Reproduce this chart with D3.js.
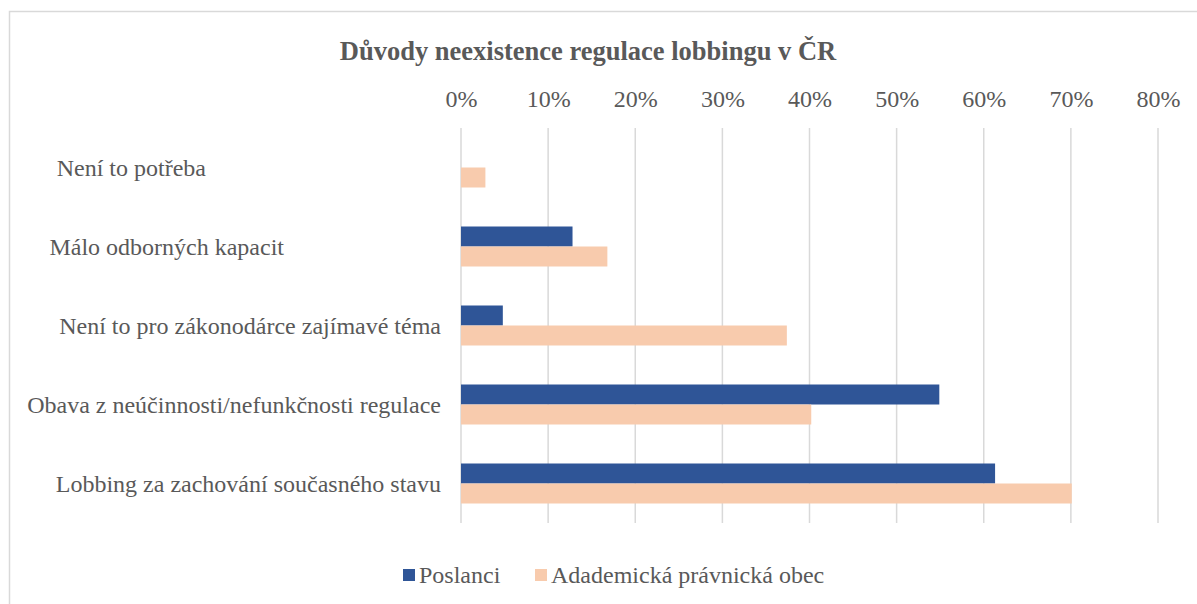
<!DOCTYPE html>
<html>
<head>
<meta charset="utf-8">
<script src="https://cdn.jsdelivr.net/npm/d3@7"></script>
<style>
  body { margin: 0; background: #fff; }
  text { font-family: "Liberation Serif", "Times New Roman", serif; fill: #595959; }
</style>
</head>
<body>
<svg id="chart" width="1197" height="604"></svg>
<script>
// data
var categories = [
  "Není to potřeba",
  "Málo odborných kapacit",
  "Není to pro zákonodárce zajímavé téma",
  "Obava z neúčinnosti/nefunkčnosti regulace",
  "Lobbing za zachování současného stavu"
];
var seriesNames = ["Poslanci", "Adademická právnická obec"];
var poslanci = [0, 0.128, 0.048, 0.549, 0.613];
var akademici = [0.028, 0.168, 0.374, 0.402, 0.701];
var ticks = [0, 0.1, 0.2, 0.3, 0.4, 0.5, 0.6, 0.7, 0.8];

var colors = ["#2F5597", "#F8CBAD"];

var svg = d3.select("#chart");

// outer frame (runs off the right / bottom edge)
svg.append("rect")
  .attr("x", 9.5).attr("y", 11.5)
  .attr("width", 1300).attr("height", 700)
  .attr("fill", "#fff")
  .attr("stroke", "#D9D9D9")
  .attr("stroke-width", 1.5);

svg.append("text")
  .attr("x", 588).attr("y", 60)
  .attr("text-anchor", "middle")
  .style("font-size", "26.5px")
  .style("font-weight", "bold")
  .text("Důvody neexistence regulace lobbingu v ČR");

var x = d3.scaleLinear().domain([0, 0.8]).range([461, 1158]);
var y = d3.scaleBand().domain(categories).range([128, 523]);
var sub = d3.scaleBand().domain(seriesNames).range([0, 40]);
var barOffset = (y.bandwidth() - 40) / 2;

// gridlines
svg.append("g").selectAll("line")
  .data(ticks).enter().append("line")
  .attr("x1", function(d){ return x(d); })
  .attr("x2", function(d){ return x(d); })
  .attr("y1", y.range()[0])
  .attr("y2", y.range()[1])
  .attr("stroke", "#D9D9D9")
  .attr("stroke-width", 1.5);

// top axis labels
var xAxis = svg.append("g")
  .attr("transform", "translate(0,107)")
  .call(d3.axisTop(x).tickValues(ticks).tickSize(0).tickPadding(0)
    .tickFormat(function(d){ return Math.round(d * 100) + "%"; }));
xAxis.select(".domain").remove();
xAxis.selectAll("text")
  .attr("y", 0).attr("dy", 0)
  .style("font-size", "24px")
  .attr("fill", "#595959");

// category labels (Excel-style, short ones sit further left)
var labelEnd = [206, 284, 441, 441, 441];
svg.append("g").selectAll("text")
  .data(categories).enter().append("text")
  .attr("x", function(d, i){ return labelEnd[i]; })
  .attr("y", function(d){ return y(d) + y.bandwidth() / 2 + 8; })
  .attr("text-anchor", "end")
  .style("font-size", "24px")
  .text(function(d){ return d; });

// bars
var rows = categories.map(function(c, i) {
  return [
    {cat: c, s: seriesNames[0], v: poslanci[i], k: 0},
    {cat: c, s: seriesNames[1], v: akademici[i], k: 1}
  ];
});

svg.append("g").selectAll("g")
  .data(rows).enter().append("g")
  .selectAll("rect")
  .data(function(d){ return d; }).enter().append("rect")
  .attr("x", x(0))
  .attr("y", function(d){ return y(d.cat) + barOffset + sub(d.s); })
  .attr("width", function(d){ return x(d.v) - x(0); })
  .attr("height", sub.bandwidth())
  .attr("fill", function(d){ return colors[d.k]; });

// legend
var legend = svg.append("g").attr("transform", "translate(403,569)");
var legX = [0, 132];
seriesNames.forEach(function(n, i) {
  legend.append("rect")
    .attr("x", legX[i]).attr("y", 0)
    .attr("width", 12).attr("height", 12)
    .attr("fill", colors[i]);
  legend.append("text")
    .attr("x", legX[i] + 16).attr("y", 14)
    .style("font-size", "24px")
    .text(n);
});
</script>
</body>
</html>
